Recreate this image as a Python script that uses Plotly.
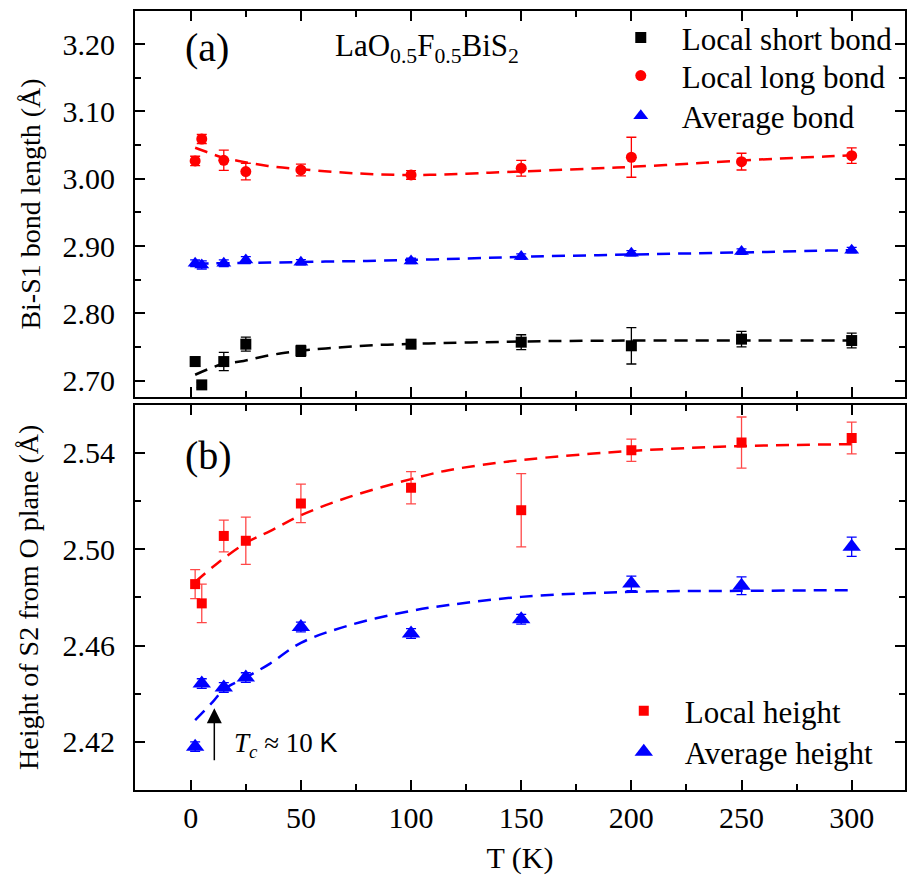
import plotly.graph_objects as go

# Temperatures (K) of the measurements
T = [2, 5, 15, 25, 50, 100, 150, 200, 250, 300]

# (a) Bi-S1 bond lengths (Å) and their uncertainties
short_bond = [2.7286, 2.694, 2.7286, 2.7544, 2.7445, 2.7544, 2.7574, 2.752, 2.7619, 2.7598]
short_err = [0.007, 0.004, 0.0136, 0.0104, 0.008, 0.004, 0.011, 0.027, 0.0116, 0.011]
long_bond = [3.0264, 3.059, 3.0274, 3.0106, 3.013, 3.0056, 3.0156, 3.0319, 3.0254, 3.0343]
long_err = [0.007, 0.0067, 0.015, 0.0124, 0.0087, 0.0064, 0.0116, 0.0297, 0.0124, 0.0116]
avg_bond = [2.8746, 2.872, 2.8746, 2.8795, 2.876, 2.878, 2.8845, 2.8894, 2.8918, 2.894]
avg_bond_err = [0.005, 0.006, 0.005, 0.005, 0.004, 0.004, 0.004, 0.004, 0.004, 0.004]

# (a) fitted trends
fit_short_T = [2, 14, 24, 34, 45, 54, 65, 76, 87, 98, 108, 143, 163, 200, 250, 300]
fit_short = [2.709, 2.7245, 2.7295, 2.737, 2.7425, 2.746, 2.749, 2.7515, 2.7535, 2.7545,
             2.7555, 2.758, 2.759, 2.7598, 2.760, 2.760]
fit_long_T = [2, 7, 14, 24, 35, 50, 75, 100, 125, 143, 163, 185, 202, 224, 245, 267, 288, 300]
fit_long = [3.046, 3.040, 3.032, 3.025, 3.019, 3.014, 3.008, 3.0055, 3.0075, 3.010, 3.0125,
            3.0155, 3.018, 3.022, 3.026, 3.030, 3.033, 3.035]
fit_avg_T = [2, 36, 61, 80, 113, 155, 208, 256, 289, 300]
fit_avg = [2.874, 2.8755, 2.877, 2.878, 2.8805, 2.8845, 2.888, 2.891, 2.8933, 2.894]

# (b) Height of S2 above the O plane (Å)
local_h = [2.4855, 2.4775, 2.5055, 2.5035, 2.519, 2.5255, 2.5162, 2.5411, 2.5443, 2.5462]
local_h_err = [0.006, 0.008, 0.0066, 0.0098, 0.008, 0.0067, 0.0152, 0.0046, 0.0106, 0.0066]
avg_h = [2.418, 2.4442, 2.4426, 2.4467, 2.4677, 2.465, 2.4709, 2.4858, 2.4848, 2.501]
avg_h_err = [0.002, 0.002, 0.002, 0.002, 0.002, 0.002, 0.002, 0.003, 0.0037, 0.004]

# (b) fitted trends
fit_local_T = [2, 12, 25, 36, 50, 72, 100, 117, 150, 200, 250, 300]
fit_local = [2.4864, 2.4941, 2.5026, 2.5075, 2.5141, 2.5217, 2.5291, 2.5328, 2.5370,
             2.5408, 2.5428, 2.5436]
fit_avgh_T = [2, 10, 15, 25, 36, 50, 72, 100, 117, 150, 200, 250, 300]
fit_avgh = [2.429, 2.4366, 2.4417, 2.4467, 2.4525, 2.4611, 2.4684, 2.4744, 2.4768, 2.4802,
            2.4823, 2.4827, 2.4830]

# Annotation values
Tc = 10.7
arrow_tip, arrow_tail = 2.434, 2.4117

SERIF = "Liberation Serif"
RED, BLUE, BLACK = "#ff0000", "#0000ff", "#000000"
DASH = "13px,8px"

fig = go.Figure()


def fit_line(x, y, color, xa, ya):
    fig.add_trace(go.Scatter(x=x, y=y, mode="lines", xaxis=xa, yaxis=ya,
                             line=dict(color=color, width=2.5, dash=DASH, shape="spline"),
                             showlegend=False, hoverinfo="skip"))


def points(y, err, name, color, symbol, size, xa, ya, legend, err_color=None):
    fig.add_trace(go.Scatter(
        x=T, y=y, mode="markers", name=name, xaxis=xa, yaxis=ya, legend=legend,
        marker=dict(color=color, symbol=symbol, size=size, line=dict(width=0)),
        error_y=dict(type="data", array=err, color=err_color or color,
                     thickness=1.3, width=5)))


fit_line(fit_short_T, fit_short, BLACK, "x", "y")
fit_line(fit_long_T, fit_long, RED, "x", "y")
fit_line(fit_avg_T, fit_avg, BLUE, "x", "y")
points(short_bond, short_err, "Local short bond", BLACK, "square", 11, "x", "y", "legend")
points(long_bond, long_err, "Local long bond", RED, "circle", 11, "x", "y", "legend2")
points(avg_bond, avg_bond_err, "Average bond", BLUE, "triangle-up", 13, "x", "y", "legend3")

fit_line(fit_local_T, fit_local, RED, "x2", "y2")
fit_line(fit_avgh_T, fit_avgh, BLUE, "x2", "y2")
points(local_h, local_h_err, "Local height", RED, "square", 10, "x2", "y2", "legend4",
       err_color="rgba(255,40,40,0.85)")
points(avg_h, avg_h_err, "Average height", BLUE, "triangle-up", 16, "x2", "y2", "legend5")

axis_common = dict(showline=True, linecolor="black", linewidth=2, mirror="allticks",
                   ticks="inside", ticklen=10, tickwidth=2, tickcolor="black",
                   showgrid=False, zeroline=False,
                   tickfont=dict(family=SERIF, size=30, color="black"))


def legend_box(x, y):
    return dict(x=x, y=y, xanchor="left", yanchor="middle", bgcolor="rgba(0,0,0,0)",
                font=dict(family=SERIF, size=31), itemwidth=72)


x_range = [-25.3, 324.2]
fig.update_layout(
    width=909, height=890,
    margin=dict(l=135, r=2, t=11, b=100),
    paper_bgcolor="white", plot_bgcolor="white",
    font=dict(family=SERIF, color="black"),
    xaxis=dict(axis_common, range=x_range, anchor="y", showticklabels=False,
               matches="x2", tick0=0, dtick=50,
               minor=dict(ticks="inside", ticklen=6, tickwidth=2, dtick=25, tick0=0,
                          tickcolor="black")),
    yaxis=dict(axis_common, domain=[0.5045, 1], range=[2.676, 3.249], anchor="x",
               tick0=2.7, dtick=0.1, tickformat=".2f", ticklabelstandoff=12,
               title=dict(text="Bi-S1 bond length (Å)", standoff=14,
                          font=dict(family=SERIF, size=28)),
               minor=dict(ticks="inside", ticklen=6, tickwidth=2, dtick=0.05, tick0=2.7,
                          tickcolor="black")),
    xaxis2=dict(axis_common, range=x_range, anchor="y2", tick0=0, dtick=50,
                ticklabelstandoff=0,
                title=dict(text="T (K)", standoff=14, font=dict(family=SERIF, size=30)),
                minor=dict(ticks="inside", ticklen=6, tickwidth=2, dtick=25, tick0=0,
                           tickcolor="black")),
    yaxis2=dict(axis_common, domain=[0, 0.4946], range=[2.40, 2.56], anchor="x2",
                tick0=2.42, dtick=0.04, tickformat=".2f", ticklabelstandoff=12,
                title=dict(text="Height of S2 from O plane (Å)", standoff=16,
                           font=dict(family=SERIF, size=28)),
                minor=dict(ticks="inside", ticklen=6, tickwidth=2, dtick=0.02, tick0=2.42,
                           tickcolor="black")),
    legend=legend_box(0.6036, 0.9654),
    legend2=legend_box(0.6036, 0.9166),
    legend3=legend_box(0.6036, 0.8652),
    legend4=legend_box(0.6075, 0.1014),
    legend5=legend_box(0.6075, 0.0488),
)

fig.add_annotation(x=-3.5, y=3.1955, xref="x", yref="y", text="(a)", showarrow=False,
                   xanchor="left", yanchor="middle", font=dict(family=SERIF, size=40))
fig.add_annotation(x=64.4, y=3.194, xref="x", yref="y",
                   text="LaO<sub>0.5</sub>F<sub>0.5</sub>BiS<sub>2</sub>", showarrow=False,
                   xanchor="left", yanchor="middle", font=dict(family=SERIF, size=31))
fig.add_annotation(x=-3.5, y=2.539, xref="x2", yref="y2", text="(b)", showarrow=False,
                   xanchor="left", yanchor="middle", font=dict(family=SERIF, size=40))
fig.add_annotation(x=Tc, y=arrow_tip, ax=Tc, ay=arrow_tail, xref="x2", yref="y2",
                   axref="x2", ayref="y2", text="", showarrow=True, arrowhead=2,
                   arrowsize=2, arrowwidth=1.5, arrowcolor="black")
fig.add_annotation(x=18.7, y=2.4186, xref="x2", yref="y2",
                   text="<i>T</i><sub><i>c</i></sub> ≈ 10 "
                        "<span style='font-family:Liberation Sans'>K</span>",
                   showarrow=False, xanchor="left", yanchor="middle",
                   font=dict(family=SERIF, size=27))

fig.write_html("out.html")
